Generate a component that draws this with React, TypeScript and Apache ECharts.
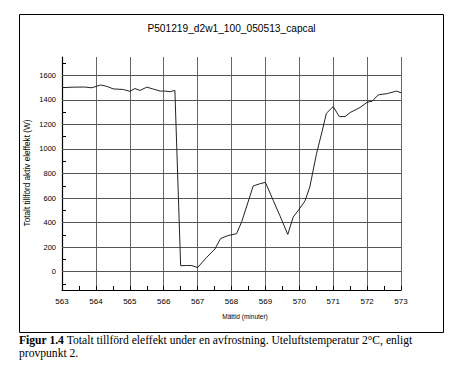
import React, { useEffect, useRef } from "react";
import * as echarts from "echarts";

const title = "P501219_d2w1_100_050513_capcal";
const yAxisTitle = "Totalt tillförd aktiv eleffekt (W)";
const xAxisTitle = "Mättid (minuter)";
const captionBold = "Figur 1.4";
const captionLine1 = " Totalt tillförd eleffekt under en avfrostning. Uteluftstemperatur 2°C, enligt";
const captionLine2 = "provpunkt 2.";

const times = [
  563.0, 563.33, 563.67, 563.88, 564.14, 564.33, 564.51, 564.81, 565.0, 565.15,
  565.3, 565.5, 565.7, 565.9, 566.05, 566.19, 566.33, 566.5, 566.67, 566.83,
  567.0, 567.27, 567.51, 567.68, 567.9, 568.15, 568.3, 568.48, 568.64, 568.82,
  569.0, 569.23, 569.43, 569.66, 569.82, 570.0, 570.17, 570.31, 570.51, 570.66,
  570.8, 571.0, 571.18, 571.35, 571.5, 571.79, 572.0, 572.15, 572.33, 572.6,
  572.87, 573.0,
];
const watts = [
  1500, 1504, 1505, 1499, 1522, 1510, 1490, 1485, 1470, 1493,
  1477, 1504, 1488, 1472, 1472, 1467, 1478, 48, 50, 49,
  33, 117, 184, 270, 294, 309, 406, 560, 698, 715,
  728, 581, 455, 303, 445, 510, 578, 690, 964, 1130,
  1291, 1346, 1264, 1264, 1297, 1338, 1381, 1390, 1441, 1452,
  1472, 1458,
];
const yLabelValues = [0, 200, 400, 600, 800, 1000, 1200, 1400, 1600];
const yTickValues = [-100, 0, 100, 200, 300, 400, 500, 600, 700, 800, 900, 1000, 1100, 1200, 1300, 1400, 1500, 1600, 1700];

export default function App() {
  const ref = useRef<HTMLDivElement>(null);
  useEffect(() => {
    document.body.style.margin = "0";
    const chart = echarts.init(ref.current!, null, { renderer: "svg" });
    const data = times.map((t, i) => [t, watts[i]]);
    chart.setOption({
      animation: false,
      backgroundColor: "#ffffff",
      grid: { left: 62, right: 66, top: 57, bottom: 84 },
      xAxis: {
        type: "value",
        min: 563,
        max: 573,
        interval: 1,
        axisLine: { show: true, onZero: false, lineStyle: { color: "#000", width: 1.2 } },
        axisTick: { show: true, inside: true, length: 4, lineStyle: { color: "#000" } },
        minorTick: { show: true, splitNumber: 2, length: 4, lineStyle: { color: "#000" } },
        splitLine: { show: true, lineStyle: { color: "#666", width: 1 } },
        axisLabel: { color: "#000", fontSize: 8, fontFamily: "Liberation Sans", margin: 7, formatter: (v: number) => String(v) },
      },
      yAxis: {
        type: "value",
        min: -150,
        max: 1750,
        axisLine: { show: true, onZero: false, lineStyle: { color: "#000", width: 1.2 } },
        axisTick: { show: true, inside: true, length: 4, customValues: yTickValues, lineStyle: { color: "#000" } },
        splitLine: { show: false },
        axisLabel: {
          color: "#000",
          fontSize: 7.5,
          fontFamily: "Liberation Sans",
          margin: 6,
          customValues: yLabelValues,
          formatter: (v: number) => String(v),
        },
      },
      series: [
        {
          type: "line",
          data,
          symbol: "none",
          lineStyle: { color: "#222", width: 1 },
          markLine: {
            silent: true,
            symbol: ["none", "none"],
            label: { show: false },
            lineStyle: { color: "#555", width: 1, type: "solid" },
            data: yLabelValues.map((v) => ({ yAxis: v })),
          },
          z: 5,
        },
      ],
      graphic: [
        {
          type: "rect",
          shape: { x: 19.5, y: 14.5, width: 424, height: 318 },
          style: { fill: "none", stroke: "#000", lineWidth: 1 },
          silent: true,
        },
        {
          type: "text",
          x: 231.5,
          y: 28,
          style: { text: title, fontSize: 10.2, fontFamily: "Liberation Sans", fill: "#000", align: "center", verticalAlign: "middle" },
        },
        {
          type: "text",
          x: 27,
          y: 173,
          rotation: Math.PI / 2,
          style: { text: yAxisTitle, fontSize: 8.2, fontFamily: "Liberation Sans", fill: "#000", align: "center", verticalAlign: "middle" },
        },
        {
          type: "text",
          x: 245,
          y: 316,
          style: { text: xAxisTitle, fontSize: 6.5, fontFamily: "Liberation Sans", fill: "#000", align: "center", verticalAlign: "middle" },
        },
        {
          type: "text",
          x: 19,
          y: 340,
          style: {
            text: "{b|" + captionBold + "}" + captionLine1,
            fontSize: 11.6,
            fontFamily: "Liberation Serif",
            fill: "#000",
            align: "left",
            verticalAlign: "middle",
            rich: { b: { fontWeight: "bold", fontSize: 11.6, fontFamily: "Liberation Serif", fill: "#000" } },
          },
        },
        {
          type: "text",
          x: 19,
          y: 353,
          style: { text: captionLine2, fontSize: 11.6, fontFamily: "Liberation Serif", fill: "#000", align: "left", verticalAlign: "middle" },
        },
      ],
    });
    return () => chart.dispose();
  }, []);
  return <div ref={ref} style={{ width: 467, height: 374 }} />;
}
